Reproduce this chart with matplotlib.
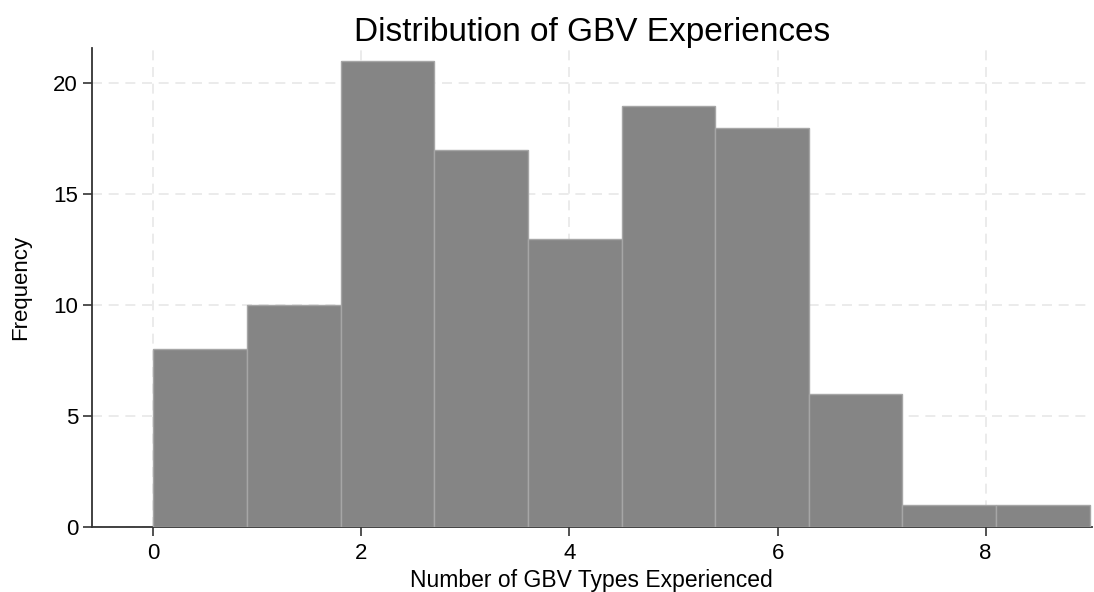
import numpy as np
import matplotlib
matplotlib.use("Agg")
import matplotlib.pyplot as plt

plt.rcParams['font.family'] = ['Liberation Sans', 'DejaVu Sans']

# histogram bins (left edges) and counts
bin_left = [0.0, 0.9, 1.8, 2.7, 3.6, 4.5, 5.4, 6.3, 7.2, 8.1]
counts = [8, 10, 21, 17, 13, 19, 18, 6, 1, 1]
bin_width = 0.9
xticks = [0, 2, 4, 6, 8]
yticks = [0, 5, 10, 15, 20]

fig = plt.figure(figsize=(10.94, 5.92), dpi=100)
ax = fig.add_axes([0.084, 0.110, 0.914, 0.809])

ax.bar(bin_left, counts, width=bin_width, align='edge', color='#858585',
       edgecolor='#a6a6a6', linewidth=1.0, zorder=3)

ax.set_xlim(-0.59, 9.02)
ax.set_ylim(0, 21.6)
ax.set_xticks(xticks)
ax.set_yticks(yticks)
ax.grid(True, color='#e8e8e8', linestyle=(0, (6, 4)), linewidth=1.2, zorder=0)

for s in ['top', 'right']:
    ax.spines[s].set_visible(False)
for s in ['left', 'bottom']:
    ax.spines[s].set_color('#333333')
    ax.spines[s].set_linewidth(1.3)

ax.tick_params(axis='both', direction='out', length=6.5, width=1.2,
               color='#333333', labelsize=16)
ax.tick_params(axis='x', pad=5)
ax.set_xlabel('Number of GBV Types Experienced', fontsize=16.5, labelpad=4)
ax.set_ylabel('Frequency', fontsize=16, labelpad=16)
ax.set_title('Distribution of GBV Experiences', fontsize=24, pad=5)

plt.savefig('out.png', dpi=100)
